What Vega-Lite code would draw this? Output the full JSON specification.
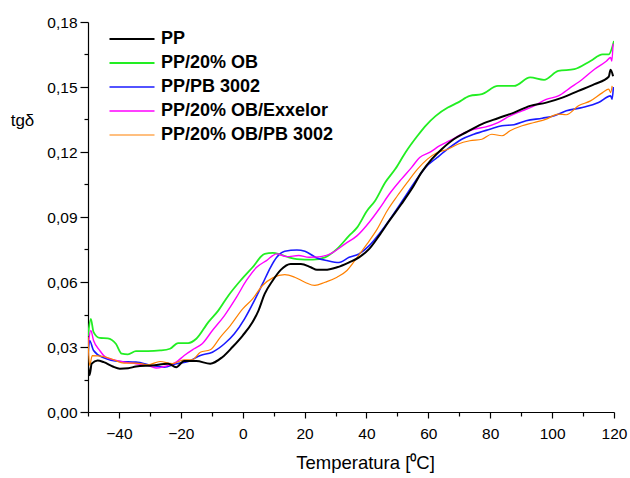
{
  "$schema": "https://vega.github.io/schema/vega-lite/v6.json",
  "width": 526,
  "height": 390,
  "autosize": {"type": "none"},
  "padding": {"left": 88, "top": 22, "right": 16, "bottom": 66},
  "background": "white",
  "config": {
    "view": {"stroke": null},
    "font": "Liberation Sans",
    "axis": {"grid": false, "domainColor": "black", "tickColor": "black", "labelColor": "black", "titleColor": "black", "labelFont": "Liberation Sans", "titleFont": "Liberation Sans", "domainWidth": 1.2, "tickWidth": 1.2}
  },
  "data": {"values": [
{"s":"PP/20% OB","t":-50,"v":0.035},{"s":"PP/20% OB","t":-49.1,"v":0.043},{"s":"PP/20% OB","t":-48.2,"v":0.0369},{"s":"PP/20% OB","t":-46.2,"v":0.0342},{"s":"PP/20% OB","t":-43.6,"v":0.034},{"s":"PP/20% OB","t":-41,"v":0.0315},{"s":"PP/20% OB","t":-39.1,"v":0.0269},{"s":"PP/20% OB","t":-37.1,"v":0.0266},{"s":"PP/20% OB","t":-34.5,"v":0.0281},{"s":"PP/20% OB","t":-30.6,"v":0.0281},{"s":"PP/20% OB","t":-26.7,"v":0.0284},{"s":"PP/20% OB","t":-23.5,"v":0.0292},{"s":"PP/20% OB","t":-20.9,"v":0.0318},{"s":"PP/20% OB","t":-17.6,"v":0.0318},{"s":"PP/20% OB","t":-15,"v":0.0338},{"s":"PP/20% OB","t":-11.1,"v":0.0415},{"s":"PP/20% OB","t":-7.9,"v":0.0468},{"s":"PP/20% OB","t":-4.6,"v":0.0538},{"s":"PP/20% OB","t":-0.7,"v":0.0607},{"s":"PP/20% OB","t":3.2,"v":0.0668},{"s":"PP/20% OB","t":7.1,"v":0.073},{"s":"PP/20% OB","t":9.7,"v":0.0734},{"s":"PP/20% OB","t":12.3,"v":0.0726},{"s":"PP/20% OB","t":14.9,"v":0.0714},{"s":"PP/20% OB","t":17.5,"v":0.0706},{"s":"PP/20% OB","t":22.7,"v":0.0703},{"s":"PP/20% OB","t":26.6,"v":0.0714},{"s":"PP/20% OB","t":30.5,"v":0.0753},{"s":"PP/20% OB","t":34.4,"v":0.0814},{"s":"PP/20% OB","t":37,"v":0.0852},{"s":"PP/20% OB","t":40.2,"v":0.0929},{"s":"PP/20% OB","t":42.8,"v":0.0975},{"s":"PP/20% OB","t":46.1,"v":0.106},{"s":"PP/20% OB","t":49.3,"v":0.1121},{"s":"PP/20% OB","t":52.6,"v":0.1198},{"s":"PP/20% OB","t":56.5,"v":0.1275},{"s":"PP/20% OB","t":59.1,"v":0.1321},{"s":"PP/20% OB","t":62.4,"v":0.1367},{"s":"PP/20% OB","t":66.3,"v":0.1405},{"s":"PP/20% OB","t":69.5,"v":0.1428},{"s":"PP/20% OB","t":73.4,"v":0.1459},{"s":"PP/20% OB","t":77.3,"v":0.1467},{"s":"PP/20% OB","t":82.5,"v":0.1505},{"s":"PP/20% OB","t":87.7,"v":0.1505},{"s":"PP/20% OB","t":92.9,"v":0.1544},{"s":"PP/20% OB","t":97.4,"v":0.1533},{"s":"PP/20% OB","t":102,"v":0.1574},{"s":"PP/20% OB","t":107.2,"v":0.1582},{"s":"PP/20% OB","t":112.4,"v":0.162},{"s":"PP/20% OB","t":116.3,"v":0.1651},{"s":"PP/20% OB","t":118.3,"v":0.1651},{"s":"PP/20% OB","t":120,"v":0.1712},
{"s":"PP/PB 3002","t":-50,"v":0.026},{"s":"PP/PB 3002","t":-49.5,"v":0.033},{"s":"PP/PB 3002","t":-48.2,"v":0.0284},{"s":"PP/PB 3002","t":-44.9,"v":0.025},{"s":"PP/PB 3002","t":-39.7,"v":0.0233},{"s":"PP/PB 3002","t":-34.5,"v":0.023},{"s":"PP/PB 3002","t":-29.3,"v":0.0215},{"s":"PP/PB 3002","t":-25.4,"v":0.0207},{"s":"PP/PB 3002","t":-21.5,"v":0.0223},{"s":"PP/PB 3002","t":-17.6,"v":0.0233},{"s":"PP/PB 3002","t":-13.7,"v":0.0261},{"s":"PP/PB 3002","t":-9.8,"v":0.0276},{"s":"PP/PB 3002","t":-5.9,"v":0.0315},{"s":"PP/PB 3002","t":-2.7,"v":0.0361},{"s":"PP/PB 3002","t":0.6,"v":0.043},{"s":"PP/PB 3002","t":3.8,"v":0.0515},{"s":"PP/PB 3002","t":6.4,"v":0.0591},{"s":"PP/PB 3002","t":9,"v":0.0668},{"s":"PP/PB 3002","t":11,"v":0.0714},{"s":"PP/PB 3002","t":13.6,"v":0.0742},{"s":"PP/PB 3002","t":17.5,"v":0.0748},{"s":"PP/PB 3002","t":20.1,"v":0.0742},{"s":"PP/PB 3002","t":24,"v":0.0711},{"s":"PP/PB 3002","t":27.2,"v":0.0699},{"s":"PP/PB 3002","t":31.1,"v":0.069},{"s":"PP/PB 3002","t":34.4,"v":0.0714},{"s":"PP/PB 3002","t":37.6,"v":0.073},{"s":"PP/PB 3002","t":40.9,"v":0.0768},{"s":"PP/PB 3002","t":44.1,"v":0.0822},{"s":"PP/PB 3002","t":48,"v":0.0898},{"s":"PP/PB 3002","t":52,"v":0.0983},{"s":"PP/PB 3002","t":55.9,"v":0.1067},{"s":"PP/PB 3002","t":59.1,"v":0.1129},{"s":"PP/PB 3002","t":62.9,"v":0.1175},{"s":"PP/PB 3002","t":66.9,"v":0.1221},{"s":"PP/PB 3002","t":70.8,"v":0.1259},{"s":"PP/PB 3002","t":74.7,"v":0.1282},{"s":"PP/PB 3002","t":79.9,"v":0.1305},{"s":"PP/PB 3002","t":83.8,"v":0.1321},{"s":"PP/PB 3002","t":87.7,"v":0.1326},{"s":"PP/PB 3002","t":91.6,"v":0.1344},{"s":"PP/PB 3002","t":96.8,"v":0.1356},{"s":"PP/PB 3002","t":100.7,"v":0.1367},{"s":"PP/PB 3002","t":104.6,"v":0.139},{"s":"PP/PB 3002","t":109.8,"v":0.1405},{"s":"PP/PB 3002","t":115,"v":0.1428},{"s":"PP/PB 3002","t":118.9,"v":0.1459},{"s":"PP/PB 3002","t":119.4,"v":0.1444},{"s":"PP/PB 3002","t":119.8,"v":0.15},
{"s":"PP/20% OB/Exxelor","t":-50,"v":0.03},{"s":"PP/20% OB/Exxelor","t":-49.1,"v":0.0376},{"s":"PP/20% OB/Exxelor","t":-48.2,"v":0.033},{"s":"PP/20% OB/Exxelor","t":-46.2,"v":0.0284},{"s":"PP/20% OB/Exxelor","t":-44.3,"v":0.0253},{"s":"PP/20% OB/Exxelor","t":-39.7,"v":0.0235},{"s":"PP/20% OB/Exxelor","t":-34.5,"v":0.0223},{"s":"PP/20% OB/Exxelor","t":-30.6,"v":0.0215},{"s":"PP/20% OB/Exxelor","t":-28,"v":0.0203},{"s":"PP/20% OB/Exxelor","t":-25.4,"v":0.021},{"s":"PP/20% OB/Exxelor","t":-21.5,"v":0.023},{"s":"PP/20% OB/Exxelor","t":-18.9,"v":0.0261},{"s":"PP/20% OB/Exxelor","t":-15.7,"v":0.0292},{"s":"PP/20% OB/Exxelor","t":-13.1,"v":0.0315},{"s":"PP/20% OB/Exxelor","t":-9.8,"v":0.0376},{"s":"PP/20% OB/Exxelor","t":-5.9,"v":0.0445},{"s":"PP/20% OB/Exxelor","t":-2,"v":0.053},{"s":"PP/20% OB/Exxelor","t":1.2,"v":0.0607},{"s":"PP/20% OB/Exxelor","t":4.5,"v":0.0668},{"s":"PP/20% OB/Exxelor","t":7.7,"v":0.0699},{"s":"PP/20% OB/Exxelor","t":11,"v":0.073},{"s":"PP/20% OB/Exxelor","t":14.2,"v":0.0717},{"s":"PP/20% OB/Exxelor","t":18.1,"v":0.0722},{"s":"PP/20% OB/Exxelor","t":21.4,"v":0.0714},{"s":"PP/20% OB/Exxelor","t":25.3,"v":0.0717},{"s":"PP/20% OB/Exxelor","t":29.2,"v":0.0737},{"s":"PP/20% OB/Exxelor","t":33.1,"v":0.0776},{"s":"PP/20% OB/Exxelor","t":37,"v":0.0814},{"s":"PP/20% OB/Exxelor","t":40.9,"v":0.0876},{"s":"PP/20% OB/Exxelor","t":44.1,"v":0.0937},{"s":"PP/20% OB/Exxelor","t":47.4,"v":0.1006},{"s":"PP/20% OB/Exxelor","t":51.3,"v":0.1075},{"s":"PP/20% OB/Exxelor","t":54.6,"v":0.1129},{"s":"PP/20% OB/Exxelor","t":57.2,"v":0.1175},{"s":"PP/20% OB/Exxelor","t":60.4,"v":0.1198},{"s":"PP/20% OB/Exxelor","t":63.7,"v":0.1229},{"s":"PP/20% OB/Exxelor","t":66.9,"v":0.1252},{"s":"PP/20% OB/Exxelor","t":70.8,"v":0.1282},{"s":"PP/20% OB/Exxelor","t":74.7,"v":0.1305},{"s":"PP/20% OB/Exxelor","t":78.6,"v":0.1316},{"s":"PP/20% OB/Exxelor","t":82.5,"v":0.1336},{"s":"PP/20% OB/Exxelor","t":86.4,"v":0.1367},{"s":"PP/20% OB/Exxelor","t":90.3,"v":0.139},{"s":"PP/20% OB/Exxelor","t":94.2,"v":0.1413},{"s":"PP/20% OB/Exxelor","t":98.1,"v":0.1443},{"s":"PP/20% OB/Exxelor","t":102,"v":0.1459},{"s":"PP/20% OB/Exxelor","t":105.9,"v":0.1497},{"s":"PP/20% OB/Exxelor","t":109.8,"v":0.1536},{"s":"PP/20% OB/Exxelor","t":113.7,"v":0.1582},{"s":"PP/20% OB/Exxelor","t":117.6,"v":0.162},{"s":"PP/20% OB/Exxelor","t":118.9,"v":0.1636},{"s":"PP/20% OB/Exxelor","t":119.3,"v":0.162},{"s":"PP/20% OB/Exxelor","t":119.7,"v":0.17},
{"s":"PP/20% OB/PB 3002","t":-50,"v":0.0346},{"s":"PP/20% OB/PB 3002","t":-49.5,"v":0.0215},{"s":"PP/20% OB/PB 3002","t":-48.6,"v":0.026},{"s":"PP/20% OB/PB 3002","t":-44.9,"v":0.0256},{"s":"PP/20% OB/PB 3002","t":-41.7,"v":0.0241},{"s":"PP/20% OB/PB 3002","t":-38.4,"v":0.0226},{"s":"PP/20% OB/PB 3002","t":-34.5,"v":0.0226},{"s":"PP/20% OB/PB 3002","t":-30.6,"v":0.0218},{"s":"PP/20% OB/PB 3002","t":-26.7,"v":0.0233},{"s":"PP/20% OB/PB 3002","t":-22.8,"v":0.0223},{"s":"PP/20% OB/PB 3002","t":-18.9,"v":0.0241},{"s":"PP/20% OB/PB 3002","t":-16.3,"v":0.0241},{"s":"PP/20% OB/PB 3002","t":-13.7,"v":0.0276},{"s":"PP/20% OB/PB 3002","t":-10.5,"v":0.0287},{"s":"PP/20% OB/PB 3002","t":-7.2,"v":0.0346},{"s":"PP/20% OB/PB 3002","t":-4,"v":0.0399},{"s":"PP/20% OB/PB 3002","t":0,"v":0.0476},{"s":"PP/20% OB/PB 3002","t":3.2,"v":0.0522},{"s":"PP/20% OB/PB 3002","t":6.4,"v":0.0584},{"s":"PP/20% OB/PB 3002","t":9.7,"v":0.0619},{"s":"PP/20% OB/PB 3002","t":13.6,"v":0.0634},{"s":"PP/20% OB/PB 3002","t":16.8,"v":0.0622},{"s":"PP/20% OB/PB 3002","t":20.1,"v":0.0599},{"s":"PP/20% OB/PB 3002","t":23.3,"v":0.0584},{"s":"PP/20% OB/PB 3002","t":26.6,"v":0.0599},{"s":"PP/20% OB/PB 3002","t":30.5,"v":0.0622},{"s":"PP/20% OB/PB 3002","t":33.7,"v":0.0653},{"s":"PP/20% OB/PB 3002","t":37,"v":0.0714},{"s":"PP/20% OB/PB 3002","t":40.2,"v":0.0776},{"s":"PP/20% OB/PB 3002","t":43.5,"v":0.0845},{"s":"PP/20% OB/PB 3002","t":46.7,"v":0.0929},{"s":"PP/20% OB/PB 3002","t":50,"v":0.0998},{"s":"PP/20% OB/PB 3002","t":53.2,"v":0.106},{"s":"PP/20% OB/PB 3002","t":56.5,"v":0.1121},{"s":"PP/20% OB/PB 3002","t":59.7,"v":0.1167},{"s":"PP/20% OB/PB 3002","t":62.9,"v":0.1198},{"s":"PP/20% OB/PB 3002","t":66.3,"v":0.1213},{"s":"PP/20% OB/PB 3002","t":69.5,"v":0.1236},{"s":"PP/20% OB/PB 3002","t":73.4,"v":0.1252},{"s":"PP/20% OB/PB 3002","t":77.3,"v":0.1259},{"s":"PP/20% OB/PB 3002","t":80.5,"v":0.1282},{"s":"PP/20% OB/PB 3002","t":83.8,"v":0.1275},{"s":"PP/20% OB/PB 3002","t":86.4,"v":0.1298},{"s":"PP/20% OB/PB 3002","t":90.3,"v":0.1321},{"s":"PP/20% OB/PB 3002","t":94.2,"v":0.1336},{"s":"PP/20% OB/PB 3002","t":98.1,"v":0.1352},{"s":"PP/20% OB/PB 3002","t":102,"v":0.1375},{"s":"PP/20% OB/PB 3002","t":104.6,"v":0.1372},{"s":"PP/20% OB/PB 3002","t":108.5,"v":0.1413},{"s":"PP/20% OB/PB 3002","t":112.4,"v":0.1436},{"s":"PP/20% OB/PB 3002","t":116.3,"v":0.1474},{"s":"PP/20% OB/PB 3002","t":118.3,"v":0.149},{"s":"PP/20% OB/PB 3002","t":118.9,"v":0.1474},{"s":"PP/20% OB/PB 3002","t":119.4,"v":0.1505},
{"s":"PP","t":-50,"v":0.0215},{"s":"PP","t":-49.5,"v":0.017},{"s":"PP","t":-48.8,"v":0.0223},{"s":"PP","t":-46.9,"v":0.0238},{"s":"PP","t":-44.9,"v":0.023},{"s":"PP","t":-42,"v":0.021},{"s":"PP","t":-39.7,"v":0.02},{"s":"PP","t":-37,"v":0.0202},{"s":"PP","t":-34.5,"v":0.021},{"s":"PP","t":-29.3,"v":0.0215},{"s":"PP","t":-24.1,"v":0.0223},{"s":"PP","t":-21.5,"v":0.0207},{"s":"PP","t":-18.9,"v":0.0235},{"s":"PP","t":-15,"v":0.0235},{"s":"PP","t":-10.5,"v":0.0223},{"s":"PP","t":-6.6,"v":0.0253},{"s":"PP","t":-3.3,"v":0.03},{"s":"PP","t":0,"v":0.0353},{"s":"PP","t":3.2,"v":0.0415},{"s":"PP","t":5.1,"v":0.0468},{"s":"PP","t":7.1,"v":0.0545},{"s":"PP","t":9.7,"v":0.0607},{"s":"PP","t":12.3,"v":0.0656},{"s":"PP","t":15.5,"v":0.0683},{"s":"PP","t":18.8,"v":0.0683},{"s":"PP","t":22,"v":0.0668},{"s":"PP","t":24,"v":0.0656},{"s":"PP","t":26.6,"v":0.0656},{"s":"PP","t":30.5,"v":0.0668},{"s":"PP","t":34.4,"v":0.0691},{"s":"PP","t":37.6,"v":0.0714},{"s":"PP","t":40.9,"v":0.0753},{"s":"PP","t":44.1,"v":0.0814},{"s":"PP","t":47.4,"v":0.0883},{"s":"PP","t":51.3,"v":0.096},{"s":"PP","t":54.6,"v":0.1029},{"s":"PP","t":57.8,"v":0.1106},{"s":"PP","t":61.1,"v":0.1167},{"s":"PP","t":64.3,"v":0.1213},{"s":"PP","t":68.2,"v":0.1259},{"s":"PP","t":72.1,"v":0.129},{"s":"PP","t":77.3,"v":0.1329},{"s":"PP","t":82.5,"v":0.1356},{"s":"PP","t":87.7,"v":0.1382},{"s":"PP","t":92.9,"v":0.1413},{"s":"PP","t":98.1,"v":0.1428},{"s":"PP","t":103.3,"v":0.1451},{"s":"PP","t":108.5,"v":0.1482},{"s":"PP","t":113.7,"v":0.1513},{"s":"PP","t":118.3,"v":0.1547},{"s":"PP","t":118.9,"v":0.158},{"s":"PP","t":119.7,"v":0.155}
  ]},
  "mark": {"type": "line", "interpolate": "monotone", "clip": true},
  "encoding": {
    "x": {
      "field": "t", "type": "quantitative",
      "scale": {"domain": [-50, 120], "nice": false, "zero": false},
      "axis": {
        "values": [-50, -40, -30, -20, -10, 0, 10, 20, 30, 40, 50, 60, 70, 80, 90, 100, 110, 120],
        "labelExpr": "datum.value % 20 == 0 ? datum.label : ''",
        "tickSize": {"condition": {"test": "datum.value % 20 == 0", "value": 6}, "value": 4},
        "labelFontSize": 15.5, "labelPadding": 8, "labelFlush": false,
        "title": "Temperatura [⁰C]", "titleFontSize": 18.5, "titleFontWeight": "normal",
        "titleX": 277, "titleAlign": "center", "titlePadding": 12
      }
    },
    "y": {
      "field": "v", "type": "quantitative",
      "scale": {"domain": [0, 0.18], "nice": false},
      "axis": {
        "values": [0, 0.015, 0.03, 0.045, 0.06, 0.075, 0.09, 0.105, 0.12, 0.135, 0.15, 0.165, 0.18],
        "labelExpr": "round(datum.value*1000) % 30 == 0 ? replace(format(datum.value, '.2f'), '.', ',') : ''",
        "tickSize": {"condition": {"test": "round(datum.value*1000) % 30 == 0", "value": 8}, "value": 4},
        "labelFontSize": 15.5, "labelPadding": 3, "labelFlush": false,
        "title": "tgδ", "titleAngle": 0, "titleFontSize": 17, "titleFontWeight": "normal",
        "titleX": -66, "titleY": 98, "titleAlign": "center", "titleBaseline": "middle"
      }
    },
    "color": {
      "field": "s", "type": "nominal",
      "scale": {
        "domain": ["PP", "PP/20% OB", "PP/PB 3002", "PP/20% OB/Exxelor", "PP/20% OB/PB 3002"],
        "range": ["#000000", "#22ee22", "#1a1aff", "#ff00ff", "#ff8000"]
      },
      "legend": {
        "title": null, "orient": "none", "legendX": 20, "legendY": 8,
        "symbolType": "M-1,0H5", "symbolSize": 225, "symbolStrokeWidth": 1.5,
        "labelFontSize": 18, "labelFontWeight": "bold", "labelColor": "black", "labelLimit": 400,
        "labelOffset": 35, "rowPadding": 6, "padding": 0
      }
    },
    "strokeWidth": {
      "field": "s", "type": "nominal",
      "scale": {
        "domain": ["PP", "PP/20% OB", "PP/PB 3002", "PP/20% OB/Exxelor", "PP/20% OB/PB 3002"],
        "range": [2, 1.2, 1.2, 1.2, 1.2]
      },
      "legend": null
    }
  }
}
